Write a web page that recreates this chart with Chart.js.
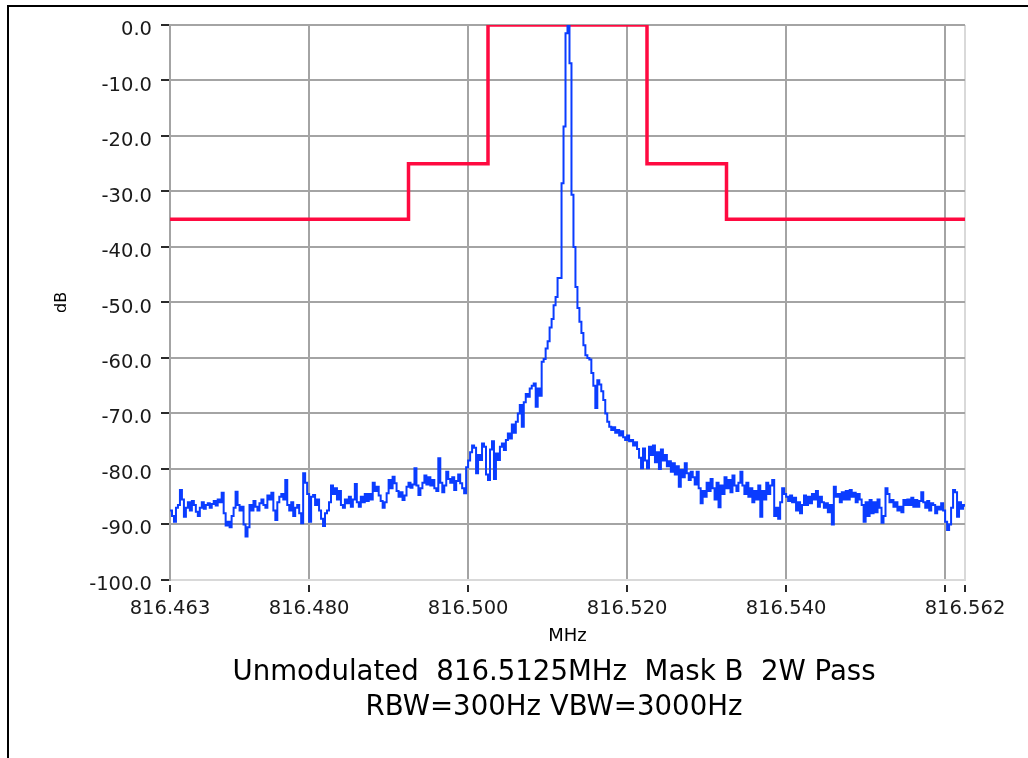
<!DOCTYPE html>
<html><head><meta charset="utf-8">
<script src="https://cdn.jsdelivr.net/npm/chart.js@4.4.1/dist/chart.umd.min.js"></script>
<style>
html,body{margin:0;padding:0;background:#fff;overflow:hidden;width:1028px;height:758px;}
#frame{position:absolute;left:7px;top:5px;width:1100px;height:800px;border-top:2px solid #000;border-left:2px solid #000;}
#wrap{position:absolute;left:0;top:0;width:1028px;height:758px;}
</style></head><body>
<div id="frame"></div>
<div id="wrap"><canvas id="c" width="1028" height="758"></canvas></div>
<script>
// ---- data ----
const traceStartMHz = 816.4625;
const traceStepMHz = 0.00025;
const traceDb = [
-87.5,-88.5,-89.5,-87.0,-86.5,-83.8,-85.5,-88.6,-87.0,-86.0,
-87.5,-85.8,-86.5,-87.7,-88.5,-87.0,-86.0,-87.2,-86.5,-86.2,
-87.0,-86.3,-85.8,-86.6,-85.5,-86.0,-84.3,-88.0,-90.2,-89.5,
-90.5,-88.5,-87.0,-84.1,-86.5,-87.5,-86.8,-90.0,-92.2,-90.5,
-86.5,-87.5,-85.8,-86.8,-87.5,-86.2,-85.5,-86.5,-87.0,-84.8,
-85.5,-84.3,-87.5,-89.2,-86.0,-85.0,-84.5,-85.5,-82.0,-86.5,
-87.5,-86.0,-88.5,-87.0,-86.5,-88.0,-89.8,-80.8,-82.5,-84.5,
-89.5,-85.0,-84.7,-86.5,-85.5,-87.5,-89.0,-90.3,-88.0,-87.5,
-86.0,-83.0,-84.5,-83.5,-85.5,-84.0,-86.5,-87.0,-85.5,-86.2,
-85.0,-86.8,-85.5,-82.7,-86.0,-86.8,-85.0,-86.0,-84.5,-85.8,
-84.5,-85.5,-82.5,-84.0,-83.2,-84.8,-85.8,-87.0,-86.0,-84.4,
-82.0,-83.5,-81.4,-82.6,-84.0,-85.0,-84.2,-85.6,-84.8,-83.2,
-82.5,-83.4,-82.8,-79.9,-83.0,-84.7,-83.5,-82.5,-81.2,-82.8,
-81.5,-83.0,-82.0,-83.5,-84.0,-78.1,-82.5,-84.2,-83.0,-80.5,
-81.8,-82.5,-81.5,-83.8,-82.2,-81.0,-82.6,-83.5,-84.4,-79.7,
-78.5,-77.0,-75.8,-76.2,-80.8,-77.5,-78.4,-75.4,-76.0,-81.0,
-82.0,-76.5,-75.0,-81.8,-77.2,-78.4,-76.0,-75.4,-76.6,-74.8,
-73.6,-74.5,-72.0,-73.5,-71.5,-70.0,-68.5,-72.4,-68.0,-66.5,
-67.0,-65.5,-65.0,-64.6,-68.8,-65.5,-66.8,-60.7,-60.2,-58.3,
-57.0,-54.5,-53.0,-50.5,-49.0,-45.6,-45.6,-28.5,-18.3,-1.5,
0.0,-6.9,-30.6,-40.0,-47.2,-51.0,-53.5,-55.5,-57.7,-59.5,
-60.0,-60.3,-62.7,-65.0,-69.0,-64.0,-64.8,-66.0,-67.6,-70.0,
-71.5,-72.4,-73.0,-72.5,-73.5,-73.0,-74.0,-73.2,-74.3,-74.8,
-74.0,-75.0,-74.8,-75.8,-75.2,-76.4,-78.0,-79.9,-76.3,-78.5,
-79.9,-76.0,-77.5,-75.8,-78.8,-77.0,-80.0,-76.5,-78.5,-77.5,
-79.5,-78.6,-80.5,-79.0,-81.0,-79.5,-83.2,-80.2,-81.5,-79.0,
-80.8,-82.0,-80.5,-81.5,-82.8,-80.5,-83.5,-86.2,-84.0,-85.0,
-82.5,-84.0,-81.8,-83.5,-85.5,-82.5,-86.9,-83.0,-84.5,-81.5,
-83.5,-82.0,-84.2,-81.2,-83.0,-84.0,-82.5,-80.5,-83.0,-84.5,
-82.5,-85.0,-83.5,-86.0,-84.0,-85.5,-83.0,-88.6,-84.0,-85.5,
-82.5,-84.5,-83.0,-82.0,-88.5,-87.0,-89.0,-86.0,-83.5,-84.5,
-85.0,-85.8,-84.8,-86.0,-85.2,-87.5,-86.0,-88.0,-86.5,-84.8,
-86.5,-85.0,-86.2,-84.5,-85.5,-84.0,-86.8,-85.0,-86.0,-87.0,
-86.2,-87.8,-86.5,-90.0,-83.2,-85.0,-84.5,-86.0,-84.2,-85.5,
-84.0,-85.5,-83.8,-85.0,-84.3,-86.0,-84.5,-85.5,-86.5,-89.5,
-86.0,-88.5,-85.6,-88.0,-86.0,-87.8,-85.5,-87.0,-89.7,-88.5,
-83.5,-84.5,-86.0,-85.6,-86.8,-86.0,-87.5,-86.8,-87.8,-85.6,
-86.5,-85.5,-86.5,-85.2,-86.8,-85.6,-86.8,-85.8,-84.2,-86.0,
-87.0,-85.8,-87.5,-86.2,-86.5,-88.0,-86.8,-87.3,-86.2,-87.5,
-89.5,-91.0,-90.0,-87.0,-83.8,-84.2,-88.6,-86.0,-87.2,-86.5,
-86.8
];
const maskFreqs = [816.4625, 816.4925, 816.5025, 816.5225, 816.5325, 816.5625];
const maskDb = [-35, -25, 0, -25, -35, -35];
const xTickValues = [816.4625, 816.480, 816.500, 816.520, 816.540, 816.560, 816.5625];
const xTickLabels = ['816.463', '816.480', '816.500', '816.520', '816.540', '', '816.562'];
const yMin = -100, yMax = 0, yStep = 10;
const xTitle = 'MHz';
const yTitle = 'dB';
const titleLines = ['Unmodulated  816.5125MHz  Mask B  2W Pass', 'RBW=300Hz VBW=3000Hz'];

// ---- build ----
const tracePoints = traceDb.map((v, i) => ({x: traceStartMHz + i * traceStepMHz, y: v}));
const maskPoints = maskFreqs.map((f, i) => ({x: f, y: maskDb[i]}));

const FONT = "'DejaVu Sans', Verdana, sans-serif";
const GRID = '#a4a4a4';
const EDGE = '#d9d9d9';
const TICK = '#2a2a2a';

new Chart(document.getElementById('c'), {
  type: 'line',
  data: {
    datasets: [
      {label: 'Spectrum', data: tracePoints, borderColor: '#0a3cff', borderWidth: 2,
       pointRadius: 0, stepped: true, fill: false},
      {label: 'Mask', data: maskPoints, borderColor: '#ff0a40', borderWidth: 3.5,
       pointRadius: 0, stepped: true, fill: false}
    ]
  },
  options: {
    responsive: false,
    animation: false,
    events: [],
    layout: {padding: {left: 82, top: 25, right: 2, bottom: 33}},
    plugins: {
      legend: {display: false},
      tooltip: {enabled: false},
      title: {
        display: true, position: 'bottom', text: titleLines, color: '#000',
        font: {family: FONT, size: 27.6, weight: 'normal', lineHeight: 1.27},
        padding: {top: 8, bottom: 0}
      }
    },
    scales: {
      x: {
        type: 'linear', min: xTickValues[0], max: xTickValues[xTickValues.length - 1],
        afterBuildTicks: (s) => { s.ticks = xTickValues.map(v => ({value: v})); },
        ticks: {
          autoSkip: false, maxRotation: 0, minRotation: 0, padding: 5, color: '#1a1a1a',
          font: {family: FONT, size: 19.5},
          callback: (v, i) => xTickLabels[i]
        },
        grid: {
          color: (c) => (c.index === xTickValues.length - 1 ? EDGE : GRID), lineWidth: 2,
          drawTicks: true, tickLength: 12, tickColor: TICK, tickWidth: 2,
          tickBorderDash: [8, 4], tickBorderDashOffset: 8
        },
        border: {display: true, color: EDGE, width: 2},
        title: {display: true, text: xTitle, color: '#000', font: {family: FONT, size: 18},
                padding: {top: 0, bottom: 0}}
      },
      y: {
        type: 'linear', min: yMin, max: yMax,
        afterFit: (s) => { s.width = 88; },
        ticks: {
          stepSize: yStep, padding: 5, color: '#1a1a1a', labelOffset: 5,
          font: {family: FONT, size: 19.5},
          callback: (v) => Number(v).toFixed(1)
        },
        grid: {
          color: (c) => (c.tick && c.tick.value === yMin ? EDGE : GRID), lineWidth: 2,
          drawTicks: true, tickLength: 13, tickColor: TICK, tickWidth: 2,
          tickBorderDash: [9, 4], tickBorderDashOffset: 9
        },
        border: {display: true, color: GRID, width: 2},
        title: {display: true, text: yTitle, color: '#000', font: {family: FONT, size: 16},
                padding: {top: -29.6, bottom: 0}}
      },
      spacer: {
        type: 'linear', position: 'right', display: true,
        afterFit: (s) => { s.width = 61; },
        ticks: {display: false},
        grid: {display: false, drawTicks: false},
        border: {display: false},
        title: {display: false}
      }
    }
  }
});
</script>
</body></html>
